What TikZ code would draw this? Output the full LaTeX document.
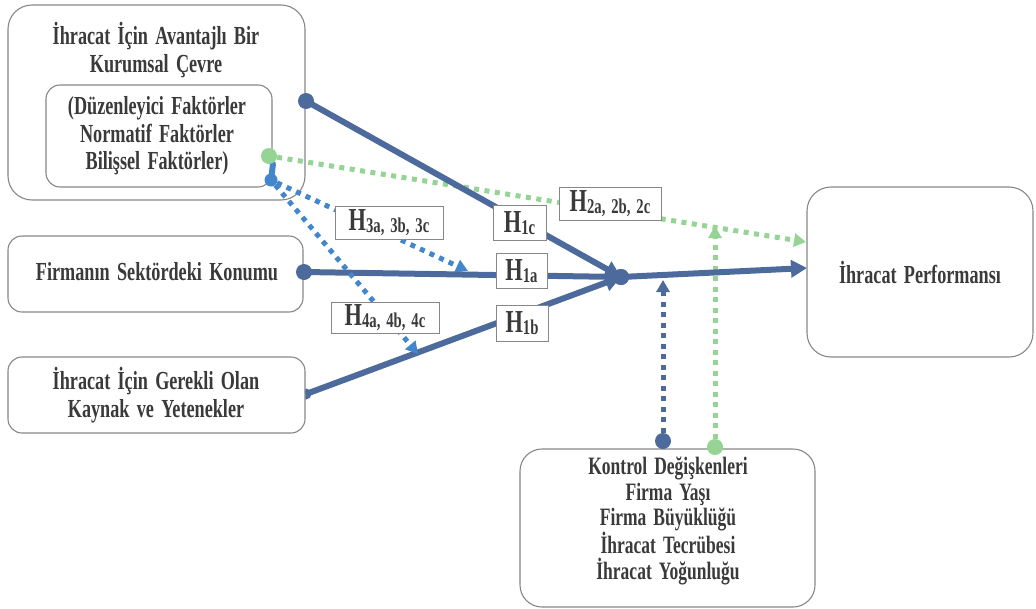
\documentclass[tikz,border=0pt]{standalone}
\usepackage{fontspec}
\setmainfont{Liberation Serif}[FakeStretch=0.70, WordSpace=1.6]
\usetikzlibrary{arrows.meta}
\definecolor{navy}{RGB}{76,106,156}
\definecolor{skyb}{RGB}{66,134,204}
\definecolor{leaf}{RGB}{150,212,150}
\definecolor{ink}{RGB}{58,58,58}
\definecolor{rim}{RGB}{135,135,135}
\newcommand{\hyp}[1]{{\fontsize{32}{32}\selectfont H}\raisebox{-2pt}{\fontsize{21}{21}\selectfont #1}}
\begin{document}
\begin{tikzpicture}[x=1pt,y=-1pt,
  box/.style={draw=rim, line width=1.1pt, fill=white, rounded corners=#1, inner sep=0pt},
  box/.default=20pt,
  txt/.style={text=ink, font=\fontsize{26}{28}\selectfont\bfseries, align=center, inner sep=0pt},
  hlab/.style={draw=rim, line width=1pt, fill=white, text=ink, inner sep=0pt, font=\bfseries},
  dot/.style={circle, fill=#1, minimum size=16pt, inner sep=0pt},
  main/.style={draw=navy, line width=6pt},
  tipbig/.style={-{Triangle[length=16pt,width=17pt]}},
  dots/.style={line width=5pt, dash pattern=on 5pt off 5.5pt},
  tipsmall/.style={-{Triangle[length=12pt,width=13pt]}}
]
\useasboundingbox (0,0) rectangle (1036,608);

% boxes
\node[box=24pt, minimum width=297pt, minimum height=195pt] (env) at (156.5,102.5) {};
\node[txt] (envt) at (156,50) {İhracat İçin Avantajlı Bir\\Kurumsal Çevre};
\node[box=14pt, minimum width=226pt, minimum height=102pt] (fac) at (159,136) {};
\node[txt, font=\fontsize{26}{27.5}\selectfont\bfseries] (fact) at (157,136) {(Düzenleyici Faktörler\\Normatif Faktörler\\Bilişsel Faktörler)};

\node[dot=navy, minimum size=11pt] (d3) at (306,394) {};
\node[box=14pt, minimum width=297pt, minimum height=76pt] (res) at (156.5,395) {};
\node[txt] (rest) at (156,395) {İhracat İçin Gerekli Olan\\Kaynak ve Yetenekler};

\node[box=14pt, minimum width=295pt, minimum height=76pt] (pos) at (155.5,274) {};
\node[txt] (post) at (157,272) {Firmanın Sektördeki Konumu};

\node[box=24pt, minimum width=226pt, minimum height=170pt] (perf) at (920,272) {};
\node[txt] (perft) at (920,272) {İhracat Performansı};

\node[box=22pt, minimum width=295pt, minimum height=158pt] (ctl) at (667.5,528) {};
\node[txt, font=\fontsize{25}{25.5}\selectfont\bfseries] (ctlt) at (668,521) {Kontrol Değişkenleri\\Firma Yaşı\\Firma Büyüklüğü\\İhracat Tecrübesi\\İhracat Yoğunluğu};

% source and junction dots
\node[dot=navy] (d1) at (306,101) {};
\node[dot=navy] (d2) at (304,272) {};
\node[dot=navy] (jn) at (621,277) {};
\node[dot=navy] (dc) at (663,441) {};
\node[dot=leaf] (gc) at (715,447) {};
\node[dot=skyb, minimum size=13pt] (bs) at (271,180) {};
\draw[skyb, line width=6pt, line cap=round] (273,164) -- (bs.center);
\node[dot=leaf] (gs) at (269,156) {};

\coordinate (t3) at (468,271);
\coordinate (t4) at (418,354);
\coordinate (tc) at (663,280);
\coordinate (tg) at (715,226);
\coordinate (pin) at (807,268);
\coordinate (pgr) at (806,242);

% dotted influences
\draw[leaf, dots, tipsmall] (gs) -- (pgr);
\draw[leaf, dots, tipsmall] (gc) -- (tg);
\draw[navy, dots, tipsmall] (dc) -- (tc);

% main paths
\draw[main, tipbig] (d1.center) -- (jn.center);
\draw[main, tipbig] (d2.center) -- (jn.center);
\draw[main, tipbig] (d3.center) -- (jn.center);
\draw[main, tipbig] (jn.center) -- (pin);
\node[dot=navy] at (jn) {};

% moderating paths
\draw[skyb, dots, tipsmall] (bs) -- (t3);
\draw[skyb, dots, tipsmall] (bs) -- (t4);

% hypothesis labels
\node[hlab, minimum width=53pt, minimum height=35pt] (h1c) at (519.5,223) {\hyp{1c}};
\node[hlab, minimum width=51pt, minimum height=35pt] (h1a) at (521.5,271) {\hyp{1a}};
\node[hlab, minimum width=52pt, minimum height=36pt] (h1b) at (522,323) {\hyp{1b}};
\node[hlab, minimum width=102pt, minimum height=33pt] (h2) at (610,203.5) {\hyp{2a, 2b, 2c}};
\node[hlab, minimum width=108pt, minimum height=33pt] (h3) at (389,222.5) {\hyp{3a, 3b, 3c}};
\node[hlab, minimum width=108pt, minimum height=31pt] (h4) at (385,317.5) {\hyp{4a, 4b, 4c}};
\end{tikzpicture}
\end{document}
